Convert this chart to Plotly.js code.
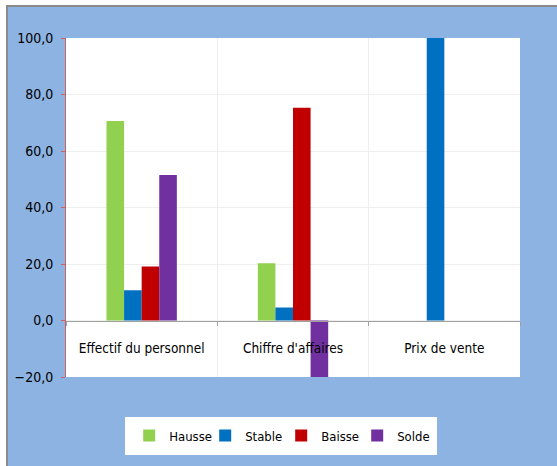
<!DOCTYPE html>
<html>
<head>
<meta charset="utf-8">
<script src="https://cdn.plot.ly/plotly-3.0.1.min.js"></script>
<style>
html,body{margin:0;padding:0;background:#ffffff;overflow:hidden;}
#frame{position:absolute;left:6px;top:5px;width:551px;height:461px;border-top:2px solid #8a8a8a;border-left:2px solid #8a8a8a;background:#8DB3E2;}
#chart{position:absolute;left:0;top:0;width:549px;height:459px;}
</style>
</head>
<body>
<div id="frame"><div id="chart"></div></div>
<script>
const categories = ["Effectif du personnel", "Chiffre d'affaires", "Prix de vente"];
const seriesNames = ["Hausse", "Stable", "Baisse", "Solde"];
const hausse = [70.6, 20.3, 0];
const stable = [10.7, 4.6, 100.0];
const baisse = [19.1, 75.3, 0];
const solde  = [51.5, -55.0, 0];
const yTicks = [-20, 0, 20, 40, 60, 80, 100];
const colors = ["#92D050", "#0070C0", "#C00000", "#7030A0"];

const values = [hausse, stable, baisse, solde];
const traces = values.map((v, i) => ({
  type: "bar",
  name: seriesNames[i],
  x: categories,
  y: v,
  marker: {color: colors[i]},
  hoverinfo: "none"
}));

const fam = "'Liberation Sans Narrow', 'DejaVu Sans Condensed', Arial, sans-serif";
const font = {family: fam, size: 14, color: "#000"};

const layout = {
  width: 549, height: 459,
  margin: {l: 58, r: 37, t: 31, b: 89},
  paper_bgcolor: "#8DB3E2",
  plot_bgcolor: "#FFFFFF",
  font: font,
  separators: ", ",
  barmode: "group",
  bargap: 0.535,
  bargroupgap: 0,
  showlegend: true,
  legend: {
    orientation: "h",
    x: 0.474, xanchor: "center",
    y: -0.1726, yanchor: "middle",
    bgcolor: "#FFFFFF",
    bordercolor: "#FFFFFF",
    borderwidth: 4,
    font: {family: fam, size: 13, color: "#000"},
    entrywidth: 31,
    traceorder: "normal"
  },
  xaxis: {
    type: "category",
    anchor: "free",
    position: 20/120,
    showline: true,
    linecolor: "#a0a0a0",
    linewidth: 1,
    ticks: "outside",
    tickson: "boundaries",
    ticklen: 4,
    tickcolor: "#a0a0a0",
    showgrid: true,
    gridcolor: "#EFEFEF",
    gridwidth: 1,
    ticklabelstandoff: 15,
    tickfont: {family: fam, size: 13.5, color: "#000"}
  },
  yaxis: {
    range: [-20, 100],
    tickvals: yTicks,
    tickformat: ".1f",
    showline: true,
    linecolor: "#D06060",
    linewidth: 1,
    ticks: "outside",
    ticklen: 4,
    tickcolor: "#D06060",
    showgrid: true,
    gridcolor: "#EFEFEF",
    gridwidth: 1,
    zeroline: false,
    ticklabelstandoff: 5,
    tickfont: font
  }
};

Plotly.newPlot("chart", traces, layout, {displayModeBar: false, staticPlot: true});
</script>
</body>
</html>
